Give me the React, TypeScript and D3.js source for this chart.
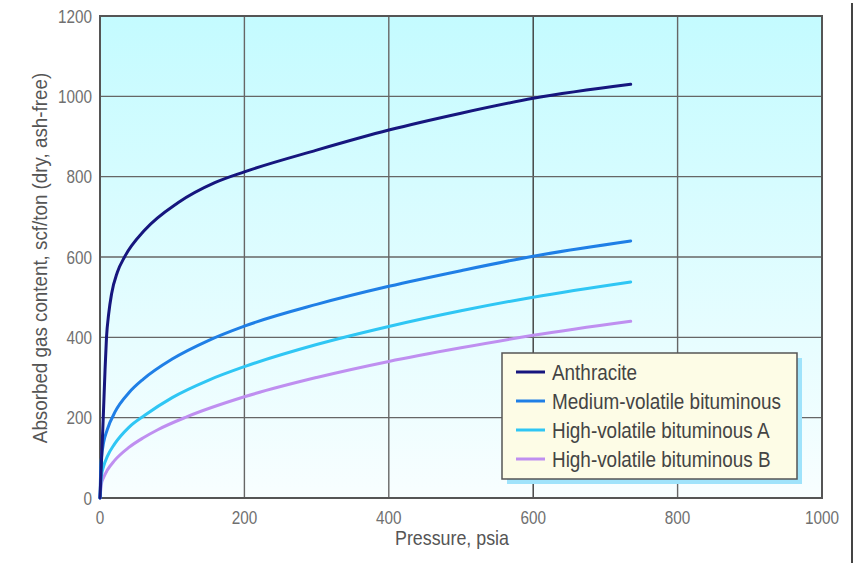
import * as d3 from 'd3';
import { useEffect, useRef } from 'react';

// series: [pressure psia, gas content scf/ton]
const seriesNames = ['Anthracite', 'Medium-volatile bituminous', 'High-volatile bituminous A', 'High-volatile bituminous B'];
const seriesColors = ['#16167e', '#1f7fe6', '#2fc6f4', '#bf8ff0'];

const anthracite: [number, number][] = [[0, 0], [2, 90], [4.5, 200], [7, 320], [9, 400], [12, 458], [16, 508], [24, 562], [34, 600], [62, 667], [108, 735], [159, 785], [200, 812], [300, 866], [400, 916], [500, 958], [600, 995], [735, 1030]];
const mediumVol: [number, number][] = [[0, 0], [1, 75], [2, 100], [5, 138], [10, 170], [21, 215], [40, 262], [60, 296], [100, 346], [150, 392], [200, 428], [300, 482], [400, 527], [500, 566], [600, 602], [735, 640]];
const highVolA: [number, number][] = [[0, 0], [2, 55], [5, 79], [10, 103], [20, 134], [40, 176], [62, 206], [100, 250], [150, 293], [200, 327], [300, 382], [400, 427], [500, 466], [600, 500], [735, 538]];
const highVolB: [number, number][] = [[0, 0], [2, 35], [5, 51], [10, 69], [20, 93], [40, 126], [60, 150], [80, 170], [120, 202], [200, 252], [300, 300], [400, 340], [500, 374], [600, 405], [735, 440]];

const xTicks = [0, 200, 400, 600, 800, 1000];
const yTicks = [0, 200, 400, 600, 800, 1000, 1200];

export default function App() {
  const svgRef = useRef<SVGSVGElement>(null);

  useEffect(() => {
    const w = 856;
    const h = 563;
    const left = 100, right = 822, top = 16, bottom = 498;
    const font = "'Liberation Sans', Arial, sans-serif";

    const svg = d3.select(svgRef.current);
    svg.selectAll('*').remove();
    svg.attr('width', w).attr('height', h).style('background', '#fff');

    // narrow looking text: squeeze horizontally round its anchor
    const label = (g: any, x: number, y: number, txt: string, size: number, sx: number, anchor: string, fill: string, rot = 0) =>
      g.append('text')
        .attr('transform', `translate(${x}, ${y}) rotate(${rot}) scale(${sx}, 1)`)
        .attr('text-anchor', anchor)
        .style('font', `${size}px ${font}`)
        .attr('fill', fill)
        .text(txt);

    // background gradient of the plot
    const defs = svg.append('defs');
    const grad = defs.append('linearGradient').attr('id', 'bg').attr('x1', 0).attr('y1', 0).attr('x2', 0).attr('y2', 1);
    grad.append('stop').attr('offset', '0%').attr('stop-color', '#c4fbff');
    grad.append('stop').attr('offset', '100%').attr('stop-color', '#f8feff');

    const x = d3.scaleLinear().domain([0, 1000]).range([left, right]);
    const y = d3.scaleLinear().domain([0, 1200]).range([bottom, top]);

    svg.append('rect')
      .attr('x', left).attr('y', top)
      .attr('width', right - left).attr('height', bottom - top)
      .attr('fill', 'url(#bg)');

    // grid
    svg.append('g').selectAll('line')
      .data(xTicks.slice(1, -1))
      .enter().append('line')
      .attr('x1', d => x(d)).attr('x2', d => x(d))
      .attr('y1', top).attr('y2', bottom)
      .attr('stroke', d => d === 600 ? '#3a3a3a' : '#666')
      .attr('stroke-width', 1.4);
    svg.append('g').selectAll('line')
      .data(yTicks.slice(1, -1))
      .enter().append('line')
      .attr('x1', left).attr('x2', right)
      .attr('y1', d => y(d)).attr('y2', d => y(d))
      .attr('stroke', '#666')
      .attr('stroke-width', 1.4);

    // frame
    svg.append('rect')
      .attr('x', left).attr('y', top)
      .attr('width', right - left).attr('height', bottom - top)
      .attr('fill', 'none').attr('stroke', '#555').attr('stroke-width', 2);

    // tick labels
    const tl = svg.append('g');
    xTicks.forEach(d => label(tl, x(d), bottom + 26, String(d), 18, 0.85, 'middle', '#707070'));
    yTicks.forEach(d => label(tl, left - 8, y(d) + 6.5, String(d), 18, 0.85, 'end', '#707070'));

    // axis titles
    label(svg, 452, 545, 'Pressure, psia', 21, 0.85, 'middle', '#555');
    label(svg, 47, 258, 'Absorbed gas content, scf/ton (dry, ash-free)', 20, 0.94, 'middle', '#555', -90);

    // curves
    const line = d3.line<[number, number]>()
      .x(d => x(d[0]))
      .y(d => y(d[1]))
      .curve(d3.curveMonotoneX);
    const allSeries = [anthracite, mediumVol, highVolA, highVolB];
    svg.append('g').selectAll('path')
      .data(allSeries.slice().reverse())
      .enter().append('path')
      .attr('d', d => line(d))
      .attr('fill', 'none')
      .attr('stroke', (d, i) => seriesColors[3 - i])
      .attr('stroke-width', 3)
      .attr('stroke-linecap', 'round');

    // legend
    const lx = 502, ly = 353, lw = 295, lh = 126;
    svg.append('rect')
      .attr('x', lx + 5).attr('y', ly + 5).attr('width', lw).attr('height', lh)
      .attr('fill', '#9fe3fb');
    svg.append('rect')
      .attr('x', lx).attr('y', ly).attr('width', lw).attr('height', lh)
      .attr('fill', '#fdfce6').attr('stroke', '#555').attr('stroke-width', 1.5);
    const lg = svg.append('g');
    seriesNames.forEach((name, i) => {
      const yy = 372 + i * 29;
      lg.append('line')
        .attr('x1', 516).attr('x2', 545).attr('y1', yy).attr('y2', yy)
        .attr('stroke', seriesColors[i])
        .attr('stroke-width', 3);
      label(lg, 552, yy + 7.5, name, 22, 0.86, 'start', '#444');
    });

    // page frame edge at the right
    svg.append('line')
      .attr('x1', 852).attr('x2', 852).attr('y1', 3).attr('y2', h)
      .attr('stroke', '#444').attr('stroke-width', 2);
  });

  return (
    <div>
      <svg ref={svgRef} style={{ position: 'absolute', left: 0, top: 0 }}></svg>
    </div>
  );
}
